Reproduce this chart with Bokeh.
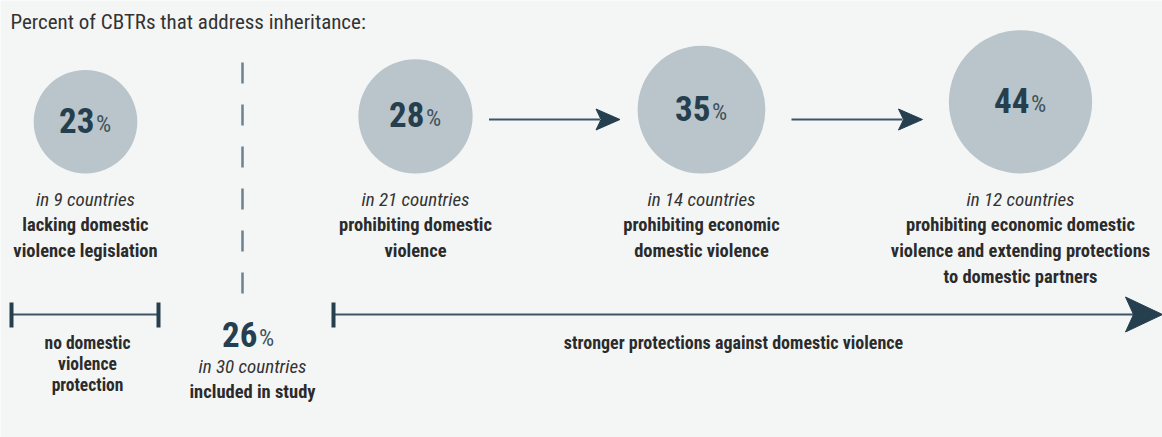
import numpy as np
from bokeh.plotting import figure
from bokeh.models import Range1d
from bokeh.core.properties import value
from bokeh.embed import file_html
from bokeh.resources import INLINE

# ---------------- data ----------------
title_text = "Percent of CBTRs that address inheritance:"
groups = ["no_dv_law", "prohibit_dv", "prohibit_econ_dv", "prohibit_econ_dv_partners"]
pct = [23, 28, 35, 44]
countries = [9, 21, 14, 12]
descriptions = [
    ["lacking domestic", "violence legislation"],
    ["prohibiting domestic", "violence"],
    ["prohibiting economic", "domestic violence"],
    ["prohibiting economic domestic", "violence and extending protections", "to domestic partners"],
]
total_pct = 26
total_countries = 30
total_label = "included in study"
no_protection_label = ["no domestic", "violence", "protection"]
stronger_label = "stronger protections against domestic violence"

# ---------------- style ----------------
FONT = "'Roboto Condensed', 'DejaVu Sans Condensed', sans-serif"
BG = "#f4f6f6"
CIRCLE = "#b9c5ca"
NAVY = "#263f4f"
LINE = "#3d5566"
DASH = "#6c8190"
TXT = "#2b2b2b"
ITAL = "#333333"
PCT_C = "#3f525d"

W, H = 1162, 437
p = figure(width=W, height=H, output_backend="svg", toolbar_location=None,
           x_range=Range1d(0, W), y_range=Range1d(H, 0),
           min_border=0, background_fill_color=BG, border_fill_color=BG)
p.axis.visible = False
p.grid.visible = False
p.outline_line_color = None

f = value(FONT)

# title
p.text(x=[10], y=[21], text=[title_text], text_font=f, text_font_size="21px",
       text_color=ITAL, text_align="left", text_baseline="middle")

# circles (area proportional to percent), bottom aligned
centers_x = np.array([85, 415, 701, 1020])
base_y = 173
scale = 10.8
radii = scale * np.sqrt(np.array(pct, dtype=float))
cy = base_y - radii
p.circle(x=centers_x, y=cy, radius=radii, fill_color=CIRCLE, line_color=None)

num_txt = [str(v) for v in pct]
p.text(x=centers_x + 9, y=cy - 1.5, text=num_txt, text_font=f, text_font_size="35px",
       text_font_style="bold", text_color=NAVY, text_align="right", text_baseline="middle")
p.text(x=centers_x + 10.5, y=cy + 2, text=["%"] * len(pct), text_font=f, text_font_size="24px",
       text_color=PCT_C, text_align="left", text_baseline="middle")

# italic counts
p.text(x=centers_x, y=[199] * len(pct), text=[f"in {c} countries" for c in countries],
       text_font=f, text_font_size="19px", text_font_style="italic", text_color=ITAL,
       text_align="center", text_baseline="middle")

# description lines
lx, ly, lt = [], [], []
for cx, lines in zip(centers_x, descriptions):
    for i, line in enumerate(lines):
        lx.append(cx)
        ly.append(224 + 26 * i)
        lt.append(line)
p.text(x=lx, y=ly, text=lt, text_font=f, text_font_size="18.5px", text_font_style="bold",
       text_color=TXT, text_align="center", text_baseline="middle")

# arrows between circles
ay = 119
for i in range(1, len(pct) - 1):
    mid = (centers_x[i] + centers_x[i + 1]) / 2 - 4
    x0, tip = mid - 65.5, mid + 65.5
    p.segment(x0=[x0], y0=[ay], x1=[tip - 20], y1=[ay], line_color=LINE, line_width=2)
    p.patch(x=[tip, tip - 24, tip - 19, tip - 24], y=[ay, ay - 10.5, ay, ay + 10.5],
            fill_color=NAVY, line_color=NAVY, line_width=1)

# dashed divider
p.segment(x0=[242], y0=[62], x1=[242], y1=[296], line_color=DASH, line_width=2.5,
          line_dash="21 21")

# left bar: no protection
bar_y = 314
p.segment(x0=[11], y0=[bar_y], x1=[158], y1=[bar_y], line_color=LINE, line_width=2)
p.segment(x0=[11, 158], y0=[302, 302], x1=[11, 158], y1=[327, 327], line_color=NAVY, line_width=4)
p.text(x=[87] * 3, y=[342 + 21 * i for i in range(3)], text=no_protection_label, text_font=f,
       text_font_size="17.5px", text_font_style="bold", text_color=TXT,
       text_align="center", text_baseline="middle")

# total
p.text(x=[257], y=[333.5], text=[str(total_pct)], text_font=f, text_font_size="35px",
       text_font_style="bold", text_color=NAVY, text_align="right", text_baseline="middle")
p.text(x=[258.5], y=[337], text=["%"], text_font=f, text_font_size="24px",
       text_color=PCT_C, text_align="left", text_baseline="middle")
p.text(x=[252], y=[366], text=[f"in {total_countries} countries"], text_font=f,
       text_font_size="19px", text_font_style="italic", text_color=ITAL,
       text_align="center", text_baseline="middle")
p.text(x=[252], y=[391], text=[total_label], text_font=f, text_font_size="18.5px",
       text_font_style="bold", text_color=TXT, text_align="center", text_baseline="middle")

# right long arrow
p.segment(x0=[333], y0=[bar_y], x1=[1135], y1=[bar_y], line_color=LINE, line_width=2)
p.segment(x0=[333], y0=[302], x1=[333], y1=[327], line_color=NAVY, line_width=4)
tip = W
p.patch(x=[tip, tip - 37, tip - 29, tip - 37], y=[bar_y, bar_y - 17.5, bar_y, bar_y + 17.5],
        fill_color=NAVY, line_color=NAVY, line_width=1)
p.text(x=[733], y=[342], text=[stronger_label], text_font=f, text_font_size="18px",
       text_font_style="bold", text_color=TXT, text_align="center", text_baseline="middle")

open("out.html", "w").write(file_html(p, INLINE))
